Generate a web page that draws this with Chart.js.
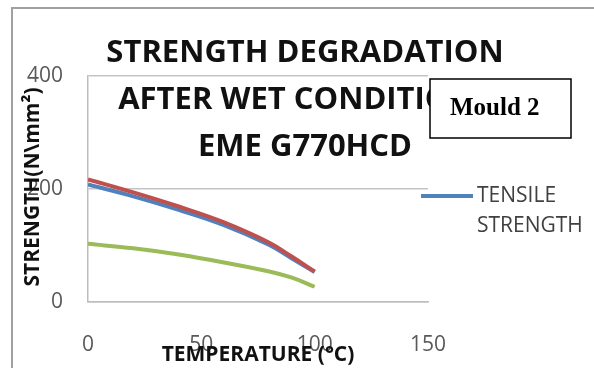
<!DOCTYPE html>
<html>
<head>
<meta charset="utf-8">
<script src="https://cdn.jsdelivr.net/npm/chart.js@4"></script>
<style>
  html, body { margin: 0; padding: 0; background: #fff; }
</style>
</head>
<body>
<canvas id="strengthChart" width="594" height="368"></canvas>
<script>
// Values (temperature in °C, strength in N/mm²)
const temperatures = [0, 20, 40, 60, 80, 90, 100];
const tensileStrength = [208, 187, 163, 136, 101, 77, 53];
const flexuralStrength = [217, 194, 169, 141, 105, 80, 54];
const shearStrength = [103, 95, 84, 70, 54, 43, 27];
const xTicks = [0, 50, 100, 150];
const yTicks = [0, 200, 400];
const titleLines = ['STRENGTH DEGRADATION', 'AFTER WET CONDITIONS', 'EME G770HCD'];
const noteText = 'Mould 2';

const toPoints = (values) => values.map((v, i) => ({ x: temperatures[i], y: v }));

// Titles, legend, note box and frame are drawn over the chart like in the Excel original
const decorations = {
  id: 'decorations',
  beforeDraw(chart) {
    const ctx = chart.ctx;
    ctx.save();
    ctx.fillStyle = '#fff';
    ctx.fillRect(0, 0, chart.width, chart.height);
    ctx.strokeStyle = '#a0a0a0';
    ctx.lineWidth = 2;
    ctx.strokeRect(12, 8, chart.width + 20, chart.height + 20);
    ctx.restore();
  },
  afterDraw(chart) {
    const ctx = chart.ctx;
    const area = chart.chartArea;
    ctx.save();

    // chart title
    ctx.fillStyle = '#111';
    ctx.font = 'bold 31px "Open Sans"';
    ctx.textAlign = 'center';
    ctx.textBaseline = 'middle';
    titleLines.forEach((line, i) => ctx.fillText(line, 305, 53 + i * 47));

    // axis titles
    ctx.font = 'bold 21px "Open Sans"';
    ctx.fillText('TEMPERATURE (°C)', (area.left + area.right) / 2, 355);
    ctx.save();
    ctx.translate(33, 187);
    ctx.rotate(-Math.PI / 2);
    ctx.fillText('STRENGTH(N\\mm²)', 0, 0);
    ctx.restore();

    // legend (only the first entry fits)
    const ds = chart.data.datasets[0];
    ctx.strokeStyle = ds.borderColor;
    ctx.lineWidth = 4;
    ctx.beginPath();
    ctx.moveTo(421, 196);
    ctx.lineTo(473, 196);
    ctx.stroke();
    ctx.fillStyle = '#404040';
    ctx.font = '21px "Open Sans"';
    ctx.textAlign = 'left';
    ds.label.split(' ').forEach((w, i) => ctx.fillText(w, 477, 196 + i * 30));

    // note box
    ctx.fillStyle = '#fff';
    ctx.fillRect(430, 79, 141, 59);
    ctx.strokeStyle = '#000';
    ctx.lineWidth = 1.5;
    ctx.strokeRect(430, 79, 141, 59);
    ctx.fillStyle = '#000';
    ctx.font = 'bold 25px "Liberation Serif"';
    ctx.textBaseline = 'alphabetic';
    ctx.fillText(noteText, 450, 115);

    ctx.restore();
  }
};

const lineStyle = { borderWidth: 4, pointRadius: 0, tension: 0.4, fill: false };

const config = {
  type: 'line',
  data: {
    datasets: [
      Object.assign({
        label: 'TENSILE STRENGTH',
        data: toPoints(tensileStrength),
        borderColor: 'rgb(79,129,189)',
        order: 2
      }, lineStyle),
      Object.assign({
        label: 'FLEXURAL STRENGTH',
        data: toPoints(flexuralStrength),
        borderColor: 'rgb(192,80,77)',
        order: 1
      }, lineStyle),
      Object.assign({
        label: 'SHEAR STRENGTH',
        data: toPoints(shearStrength),
        borderColor: 'rgb(155,187,89)',
        order: 0
      }, lineStyle)
    ]
  },
  options: {
    responsive: false,
    animation: false,
    layout: { padding: { left: 0, top: 76, right: 166, bottom: 0 } },
    plugins: {
      legend: { display: false },
      title: { display: false },
      tooltip: { enabled: false }
    },
    scales: {
      x: {
        type: 'linear',
        min: 0,
        max: 150,
        afterFit: (s) => { s.height = 66; },
        afterBuildTicks: (s) => { s.ticks = xTicks.map(v => ({ value: v })); },
        grid: { display: false },
        border: { display: true, color: '#bdbdbd', width: 1.5 },
        ticks: { padding: 22, color: '#595959', font: { family: 'Open Sans', size: 21 } }
      },
      y: {
        min: 0,
        max: 400,
        afterFit: (s) => { s.width = 88; },
        afterBuildTicks: (s) => { s.ticks = yTicks.map(v => ({ value: v })); },
        grid: { color: '#c4c4c4', lineWidth: 1.5, drawTicks: false },
        border: { display: true, color: '#bdbdbd', width: 1.5 },
        ticks: { padding: 25, color: '#595959', font: { family: 'Open Sans', size: 21 } }
      }
    }
  },
  plugins: [decorations]
};

new Chart(document.getElementById('strengthChart').getContext('2d'), config);
</script>
</body>
</html>
